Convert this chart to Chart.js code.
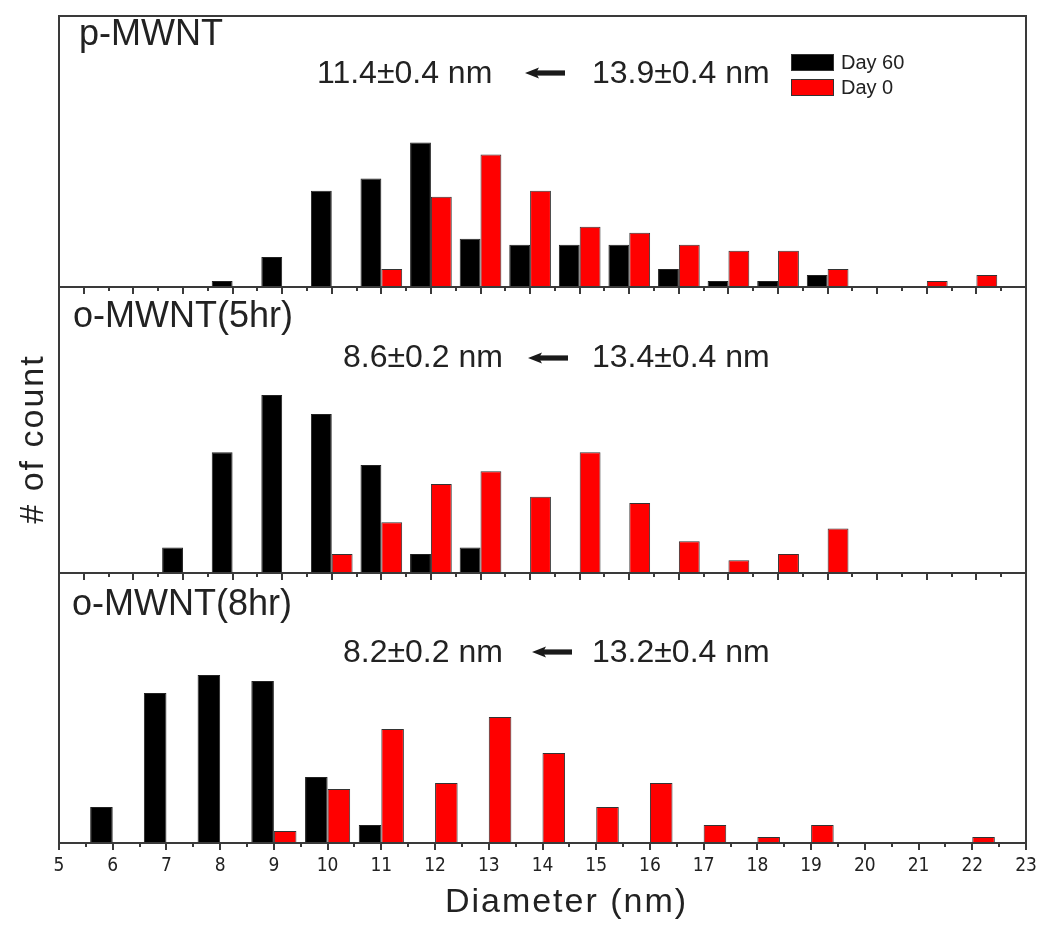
<!DOCTYPE html>
<html>
<head>
<meta charset="utf-8">
<script src="https://cdn.jsdelivr.net/npm/chart.js@4.4.1/dist/chart.umd.min.js"></script>
<style>
  html, body { margin: 0; padding: 0; background: #fff; }
  #wrap { position: relative; width: 1050px; height: 935px; }
  #wrap canvas { position: absolute; left: 0; top: 0; }
</style>
</head>
<body>
<div id="wrap">
  <canvas id="pristine" width="1050" height="935"></canvas>
  <canvas id="oxid5" width="1050" height="935"></canvas>
  <canvas id="oxid8" width="1050" height="935"></canvas>
</div>
<script>
// p-MWNT counts per diameter bin (nm)
const pDay60X = [8, 9, 10, 11, 12, 13, 14, 15, 16, 17, 18, 19, 20];
const pDay60 = [1, 5, 16, 18, 24, 8, 7, 7, 7, 3, 1, 1, 2];
const pDay0X = [11, 12, 13, 14, 15, 16, 17, 18, 19, 20, 22, 23];
const pDay0 = [3, 15, 22, 16, 10, 9, 7, 6, 6, 3, 1, 2];

// o-MWNT(5hr)
const o5Day60X = [7, 8, 9, 10, 11, 12, 13];
const o5Day60 = [4, 19, 28, 25, 17, 3, 4];
const o5Day0X = [10, 11, 12, 13, 14, 15, 16, 17, 18, 19, 20];
const o5Day0 = [3, 8, 14, 16, 12, 19, 11, 5, 2, 3, 7];

// o-MWNT(8hr)
const o8Day60X = [6, 7, 8, 9, 10, 11];
const o8Day60 = [6, 25, 28, 27, 11, 3];
const o8Day0X = [9, 10, 11, 12, 13, 14, 15, 16, 17, 18, 19, 22];
const o8Day0 = [2, 9, 19, 10, 21, 15, 6, 10, 3, 1, 3, 1];

const seriesNames = ['Day 60', 'Day 0'];
const xTickLabels = ['5', '6', '7', '8', '9', '10', '11', '12', '13', '14', '15', '16', '17', '18', '19', '20', '21', '22', '23'];

const SANS = '"Liberation Sans", Arial, sans-serif';
const NARROW = '"Liberation Sans Narrow", "Arial Narrow", "DejaVu Sans Condensed", sans-serif';
const FRAME = '#3a3a3a';
const TEXT = '#222';

function pts(xs, ys) {
    return xs.map((x, i) => ({ x: x, y: ys[i] }));
}

function drawArrow(ctx, x1, x2, y) {
    ctx.fillStyle = '#1a1a1a';
    ctx.fillRect(x1 + 9, y - 2.6, x2 - x1 - 9, 5.2);
    ctx.beginPath();
    ctx.moveTo(x1, y);
    ctx.lineTo(x1 + 14, y - 5.5);
    ctx.lineTo(x1 + 11, y);
    ctx.lineTo(x1 + 14, y + 5.5);
    ctx.closePath();
    ctx.fill();
}

// frame, ticks, labels and notes for each panel
const decor = {
    id: 'decor',
    afterDraw(chart, args, o) {
        const { ctx, chartArea: a } = chart;
        const x = chart.scales.x;
        ctx.save();
        ctx.strokeStyle = FRAME;
        ctx.lineWidth = 2;
        ctx.beginPath();
        ctx.moveTo(a.left, a.top); ctx.lineTo(a.left, a.bottom);
        ctx.moveTo(a.right, a.top); ctx.lineTo(a.right, a.bottom);
        ctx.moveTo(a.left - 1, a.bottom); ctx.lineTo(a.right + 1, a.bottom);
        if (o.topLine) {
            ctx.moveTo(a.left - 1, a.top); ctx.lineTo(a.right + 1, a.top);
        }
        ctx.stroke();

        // major ticks every 1 nm, minor every 0.5 nm, pointing down
        ctx.beginPath();
        for (let v = Math.ceil(x.min * 2) / 2; v <= x.max; v += 0.5) {
            const px = Math.round(x.getPixelForValue(v));
            const len = Number.isInteger(v) ? 7 : 4;
            ctx.moveTo(px, a.bottom);
            ctx.lineTo(px, a.bottom + len);
        }
        ctx.stroke();

        ctx.fillStyle = TEXT;
        ctx.textBaseline = 'alphabetic';
        if (o.tickLabels) {
            ctx.font = '19px ' + NARROW;
            ctx.textAlign = 'center';
            xTickLabels.forEach(t => {
                ctx.fillText(t, x.getPixelForValue(Number(t)), a.bottom + 28);
            });
        }

        ctx.textAlign = 'left';
        ctx.font = '36px ' + SANS;
        ctx.fillText(o.label, o.labelAt[0], o.labelAt[1]);

        ctx.font = '32px ' + SANS;
        ctx.fillText(o.after, o.afterAt[0], o.afterAt[1]);
        ctx.fillText(o.before, o.beforeAt[0], o.beforeAt[1]);
        drawArrow(ctx, o.arrow[0], o.arrow[1], o.arrow[2]);

        if (o.legend) {
            ctx.font = '20px ' + SANS;
            chart.data.datasets.forEach((ds, i) => {
                const y = 54 + i * 25;
                ctx.fillStyle = ds.backgroundColor;
                ctx.fillRect(791, y, 43, 17);
                ctx.strokeStyle = '#333';
                ctx.lineWidth = 1;
                ctx.strokeRect(791.5, y + 0.5, 42, 16);
                ctx.fillStyle = TEXT;
                ctx.fillText(ds.label, 841, y + 15);
            });
        }

        if (o.axisTitles) {
            ctx.fillStyle = TEXT;
            ctx.font = '34px ' + SANS;
            ctx.letterSpacing = '2px';
            ctx.textAlign = 'center';
            ctx.fillText('Diameter (nm)', (a.left + a.right) / 2 + 24, 912);
            ctx.translate(43, 439);
            ctx.rotate(-Math.PI / 2);
            ctx.fillText('# of count', 0, 0);
        }
        ctx.restore();
    }
};

function makePanel(id, d60, d0, xmin, xmax, top, bottom, notes) {
    return new Chart(document.getElementById(id), {
        type: 'bar',
        data: {
            datasets: [{
                label: seriesNames[0],
                data: d60,
                backgroundColor: '#000000',
                borderColor: '#222',
                borderWidth: 1
            }, {
                label: seriesNames[1],
                data: d0,
                backgroundColor: '#ff0000',
                borderColor: '#333',
                borderWidth: 1
            }]
        },
        options: {
            responsive: false,
            animation: false,
            devicePixelRatio: 1,
            categoryPercentage: 0.84,
            barPercentage: 1.0,
            layout: { padding: { left: 59, right: 24, top: top, bottom: 935 - bottom } },
            scales: {
                x: { type: 'linear', min: xmin, max: xmax, offset: false, display: false,
                     ticks: { includeBounds: false } },
                y: { min: 0, max: 45, display: false }
            },
            plugins: {
                legend: { display: false },
                tooltip: { enabled: false },
                decor: notes
            }
        },
        plugins: [decor]
    });
}

makePanel('pristine', pts(pDay60X, pDay60), pts(pDay0X, pDay0), 4.5, 24, 16, 287, {
    topLine: true, legend: true,
    label: 'p-MWNT', labelAt: [79, 45],
    after: '11.4±0.4 nm', afterAt: [317, 83],
    before: '13.9±0.4 nm', beforeAt: [592, 83],
    arrow: [525, 565, 73]
});

makePanel('oxid5', pts(o5Day60X, o5Day60), pts(o5Day0X, o5Day0), 4.5, 24, 287, 573, {
    label: 'o-MWNT(5hr)', labelAt: [73, 327],
    after: '8.6±0.2 nm', afterAt: [343, 367],
    before: '13.4±0.4 nm', beforeAt: [592, 367],
    arrow: [528, 568, 358]
});

makePanel('oxid8', pts(o8Day60X, o8Day60), pts(o8Day0X, o8Day0), 5, 23, 573, 843, {
    tickLabels: true, axisTitles: true,
    label: 'o-MWNT(8hr)', labelAt: [72, 615],
    after: '8.2±0.2 nm', afterAt: [343, 662],
    before: '13.2±0.4 nm', beforeAt: [592, 662],
    arrow: [532, 572, 652]
});
</script>
</body>
</html>
